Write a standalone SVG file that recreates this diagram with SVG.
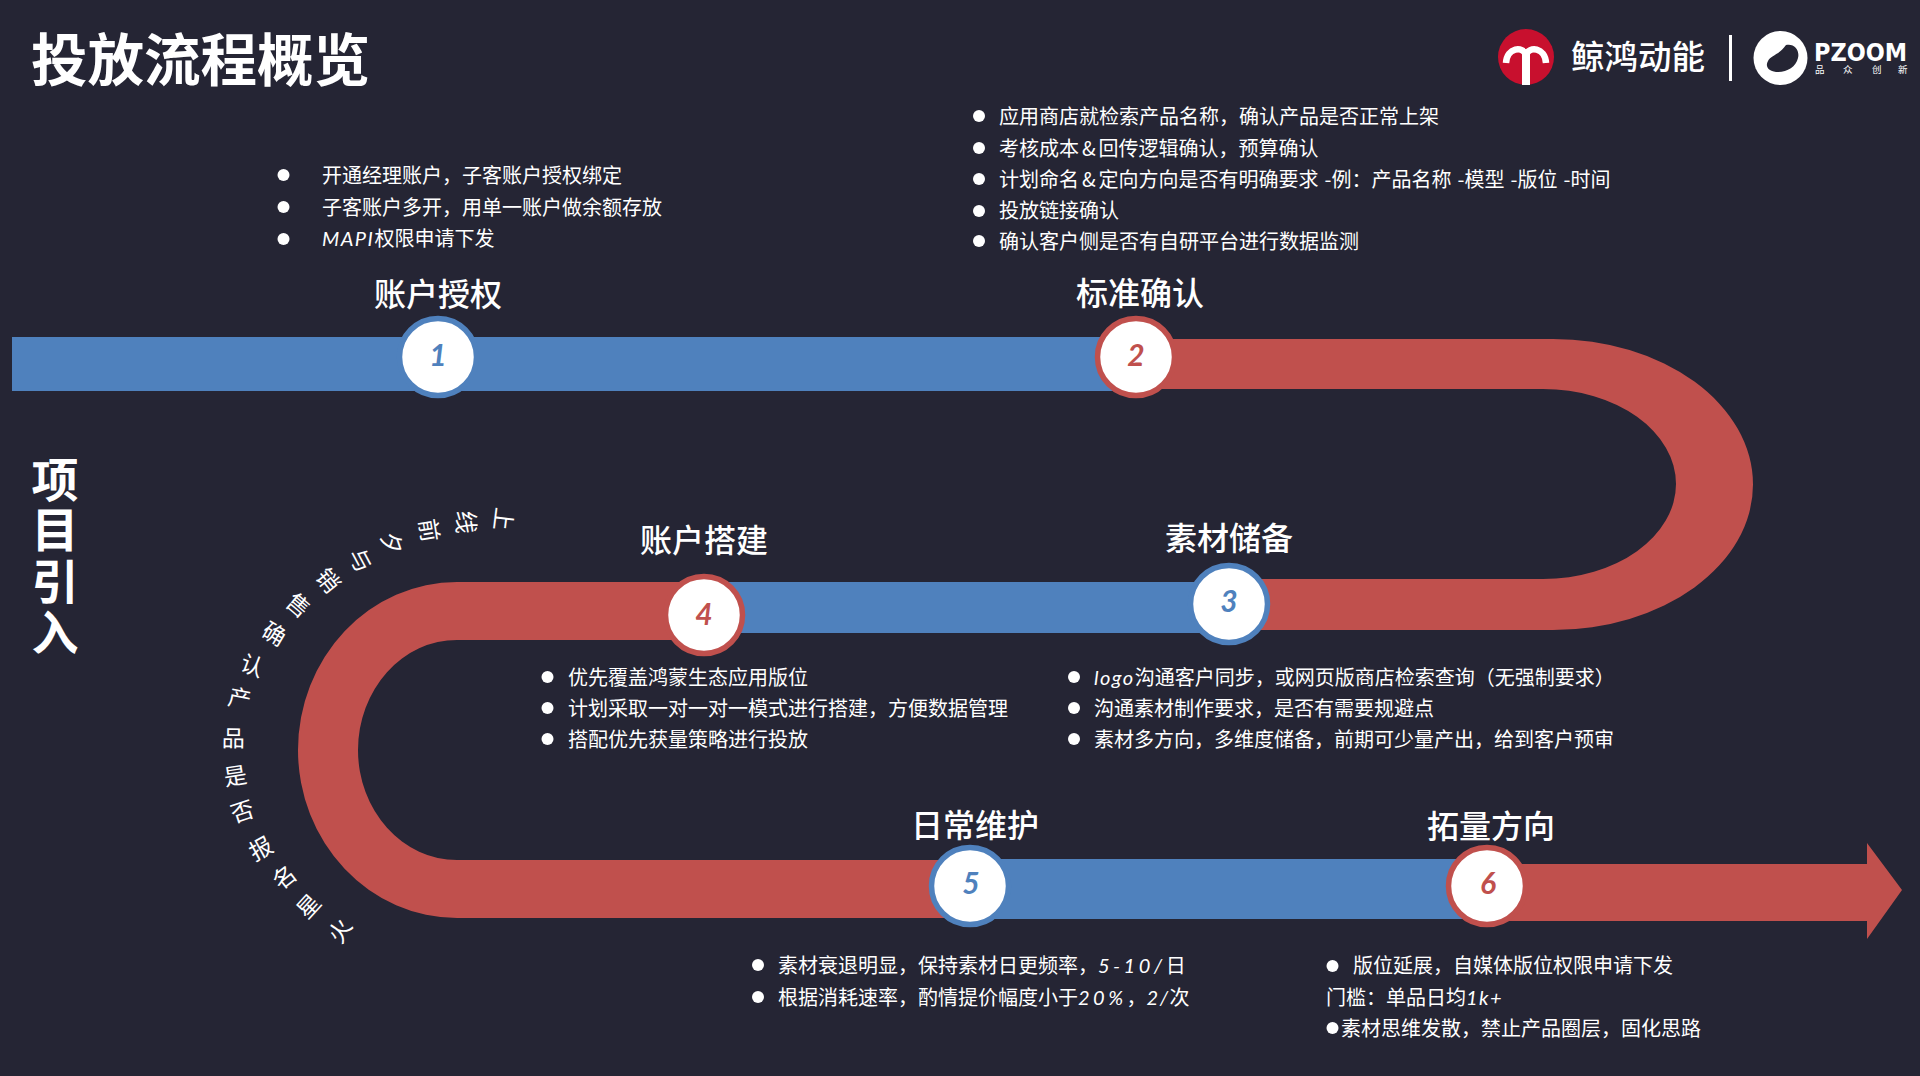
<svg xmlns="http://www.w3.org/2000/svg" width="1920" height="1076" viewBox="0 0 1920 1076">
<style>
text{font-family:"Noto Sans CJK SC","Noto Sans",sans-serif;fill:#fff}
.title{font-size:56.500px;font-weight:700}
.side{font-size:47px;font-weight:700;text-anchor:middle}
.head{font-size:32px;font-weight:500;text-anchor:middle}
.body{font-size:20px}
.hand{font-family:"Lato","Noto Sans CJK SC",sans-serif;font-style:italic;letter-spacing:1.500px}
.wide{letter-spacing:3.500px}
.arc{font-size:23px;text-anchor:middle;dominant-baseline:central}
.num{font-family:"Lato",sans-serif;font-style:italic;font-weight:700;font-size:30px;text-anchor:middle}
.dot{fill:#fff}
.red{fill:#c0504d}
.blue{fill:#4f81bd}
.cr{fill:#fff;stroke:#c0504d;stroke-width:5.500}
.cb{fill:#fff;stroke:#4f81bd;stroke-width:5.500}
.nr{fill:#c0504d}
.nb{fill:#4f81bd}
</style>
<rect width="1920" height="1076" fill="#252534"/>
<g id="title">
<text class="title" x="31" y="81">投放流程概览</text>
<text class="side"><tspan x="55" y="497">项</tspan><tspan x="55" y="547">目</tspan><tspan x="55" y="599">引</tspan><tspan x="55" y="650">入</tspan></text>
</g>
<g id="logos">
<circle cx="1526" cy="57" r="28" fill="#c8102e"/>
<path d="M1506 63C1507 47 1523 46 1526 55C1529 46 1545 47 1546 63" fill="none" stroke="#fff" stroke-width="6.500"/>
<rect x="1522" y="54" width="8" height="31" fill="#fff"/>
<text x="1571" y="69" font-size="33.500" font-weight="500">鲸鸿动能</text>
<rect x="1729" y="35" width="3" height="46" fill="#fff"/>
<circle cx="1780.500" cy="58" r="27" fill="#fff"/>
<path d="M1786 45C1794 43 1800 50 1798 58C1796 67 1786 73 1776 72C1768 71 1765 66 1768 61C1771 55 1779 55 1786 45Z" fill="#252534"/>
<text x="1814" y="61" font-size="24.500" font-weight="700" style="font-family:'DejaVu Sans',sans-serif" textLength="93" lengthAdjust="spacingAndGlyphs">PZOOM</text>
<text x="1815 1843 1872 1898" y="73" font-size="9.500">品众创新</text>
</g>
<g id="connectors">
<path id="band-2-3" class="red" d="M1135 339H1553A200 145.500 0 0 1 1553 630H1228V579H1543A133 95 0 0 0 1543 389H1135Z"/>
<rect id="band-1-2" class="blue" x="12" y="337" width="1124" height="54"/>
<path id="band-4-5" class="red" d="M705 582H457A159 168 0 0 0 457 918H970V860H457A99 110 0 0 1 457 640H705Z"/>
<rect id="band-3-4" class="blue" x="705" y="582" width="525" height="51"/>
<rect id="band-5-6" class="blue" x="968" y="859" width="518" height="60"/>
<path id="band-6-arrow" class="red" d="M1486 864H1867V843L1902 890L1867 939V921H1486Z"/>
</g>
<g id="node-1">
<circle class="cb" cx="438" cy="357" r="38.500"/>
<text class="num nb" x="438" y="366">1</text>
<text class="head" x="438" y="306">账户授权</text>
<g class="body">
<circle class="dot" cx="283.500" cy="175" r="6"/><circle class="dot" cx="283.500" cy="207" r="6"/><circle class="dot" cx="283.500" cy="239" r="6"/>
<text x="322" y="183">开通经理账户，子客账户授权绑定</text>
<text x="322" y="215">子客账户多开，用单一账户做余额存放</text>
<text x="322" y="246"><tspan class="hand">MAPI</tspan>权限申请下发</text>
</g>
</g>
<g id="node-2">
<circle class="cr" cx="1136" cy="357" r="38.500"/>
<text class="num nr" x="1136" y="366">2</text>
<text class="head" x="1140" y="305">标准确认</text>
<g class="body">
<circle class="dot" cx="979" cy="116" r="6"/><circle class="dot" cx="979" cy="148" r="6"/><circle class="dot" cx="979" cy="179" r="6"/><circle class="dot" cx="979" cy="211" r="6"/><circle class="dot" cx="979" cy="241" r="6"/>
<text x="999" y="124">应用商店就检索产品名称，确认产品是否正常上架</text>
<text x="999" y="156">考核成本<tspan dx="3">&amp;</tspan><tspan dx="3">回传逻辑确认，预算确认</tspan></text>
<text x="999" y="187">计划命名<tspan dx="3">&amp;</tspan><tspan dx="3">定向方向是否有明确要求</tspan><tspan dx="6">-</tspan>例：产品名称<tspan dx="6">-</tspan>模型<tspan dx="6">-</tspan>版位<tspan dx="6">-</tspan>时间</text>
<text x="999" y="218">投放链接确认</text>
<text x="999" y="249">确认客户侧是否有自研平台进行数据监测</text>
</g>
</g>
<g id="node-3">
<circle class="cb" cx="1229" cy="604" r="38.500"/>
<text class="num nb" x="1229" y="612">3</text>
<text class="head" x="1229" y="550">素材储备</text>
<g class="body">
<circle class="dot" cx="1074" cy="677" r="6"/><circle class="dot" cx="1074" cy="708" r="6"/><circle class="dot" cx="1074" cy="739" r="6"/>
<text x="1094" y="685"><tspan class="hand">logo</tspan>沟通客户同步，或网页版商店检索查询（无强制要求）</text>
<text x="1094" y="716">沟通素材制作要求，是否有需要规避点</text>
<text x="1094" y="747">素材多方向，多维度储备，前期可少量产出，给到客户预审</text>
</g>
</g>
<g id="node-4">
<circle class="cr" cx="704" cy="615" r="38.500"/>
<text class="num nr" x="704" y="625">4</text>
<text class="head" x="704" y="552">账户搭建</text>
<g class="body">
<circle class="dot" cx="547.500" cy="677" r="6"/><circle class="dot" cx="547.500" cy="708" r="6"/><circle class="dot" cx="547.500" cy="739" r="6"/>
<text x="568" y="685">优先覆盖鸿蒙生态应用版位</text>
<text x="568" y="716">计划采取一对一对一模式进行搭建，方便数据管理</text>
<text x="568" y="747">搭配优先获量策略进行投放</text>
</g>
</g>
<g id="node-5">
<circle class="cb" cx="970" cy="886" r="38.500"/>
<text class="num nb" x="971" y="894">5</text>
<text class="head" x="975" y="837">日常维护</text>
<g class="body">
<circle class="dot" cx="758" cy="965" r="6"/><circle class="dot" cx="758" cy="997" r="6"/>
<text x="778" y="973">素材衰退明显，保持素材日更频率，<tspan class="hand wide">5-10/</tspan>日</text>
<text x="778" y="1005">根据消耗速率，酌情提价幅度小于<tspan class="hand wide">20%</tspan>，<tspan class="hand">2/</tspan>次</text>
</g>
</g>
<g id="node-6">
<circle class="cr" cx="1487" cy="886" r="38.500"/>
<text class="num nr" x="1488" y="894">6</text>
<text class="head" x="1491" y="838">拓量方向</text>
<g class="body">
<circle class="dot" cx="1332.500" cy="966" r="6"/><circle class="dot" cx="1332.500" cy="1028" r="6"/>
<text x="1353" y="973">版位延展，自媒体版位权限申请下发</text>
<text x="1326" y="1005">门槛：单品日均<tspan class="hand">1k+</tspan></text>
<text x="1341" y="1036">素材思维发散，禁止产品圈层，固化思路</text>
</g>
</g>
<g id="arc-label">
<text class="arc" transform="translate(505 519.300) rotate(97)">上</text>
<text class="arc" transform="translate(468.300 522.300) rotate(90)">线</text>
<text class="arc" transform="translate(430.700 530) rotate(81)">前</text>
<text class="arc" transform="translate(393.300 542.700) rotate(71.700)">夕</text>
<text class="arc" transform="translate(361.700 559.300) rotate(61.800)">与</text>
<text class="arc" transform="translate(329.300 579.300) rotate(51.100)">销</text>
<text class="arc" transform="translate(299.300 604) rotate(40.400)">售</text>
<text class="arc" transform="translate(275 632.300) rotate(30.300)">确</text>
<text class="arc" transform="translate(252.700 664) rotate(20.100)">认</text>
<text class="arc" transform="translate(240 696.700) rotate(11.100)">产</text>
<text class="arc" transform="translate(233.300 736.700) rotate(0.700)">品</text>
<text class="arc" transform="translate(235 774.300) rotate(-8.900)">是</text>
<text class="arc" transform="translate(241.700 810) rotate(-18.100)">否</text>
<text class="arc" transform="translate(260 847.300) rotate(-28.600)">报</text>
<text class="arc" transform="translate(283.300 876) rotate(-38)">名</text>
<text class="arc" transform="translate(307.300 905) rotate(-47.600)">星</text>
<text class="arc" transform="translate(338.300 930) rotate(-57.800)">火</text>
</g>
</svg>
